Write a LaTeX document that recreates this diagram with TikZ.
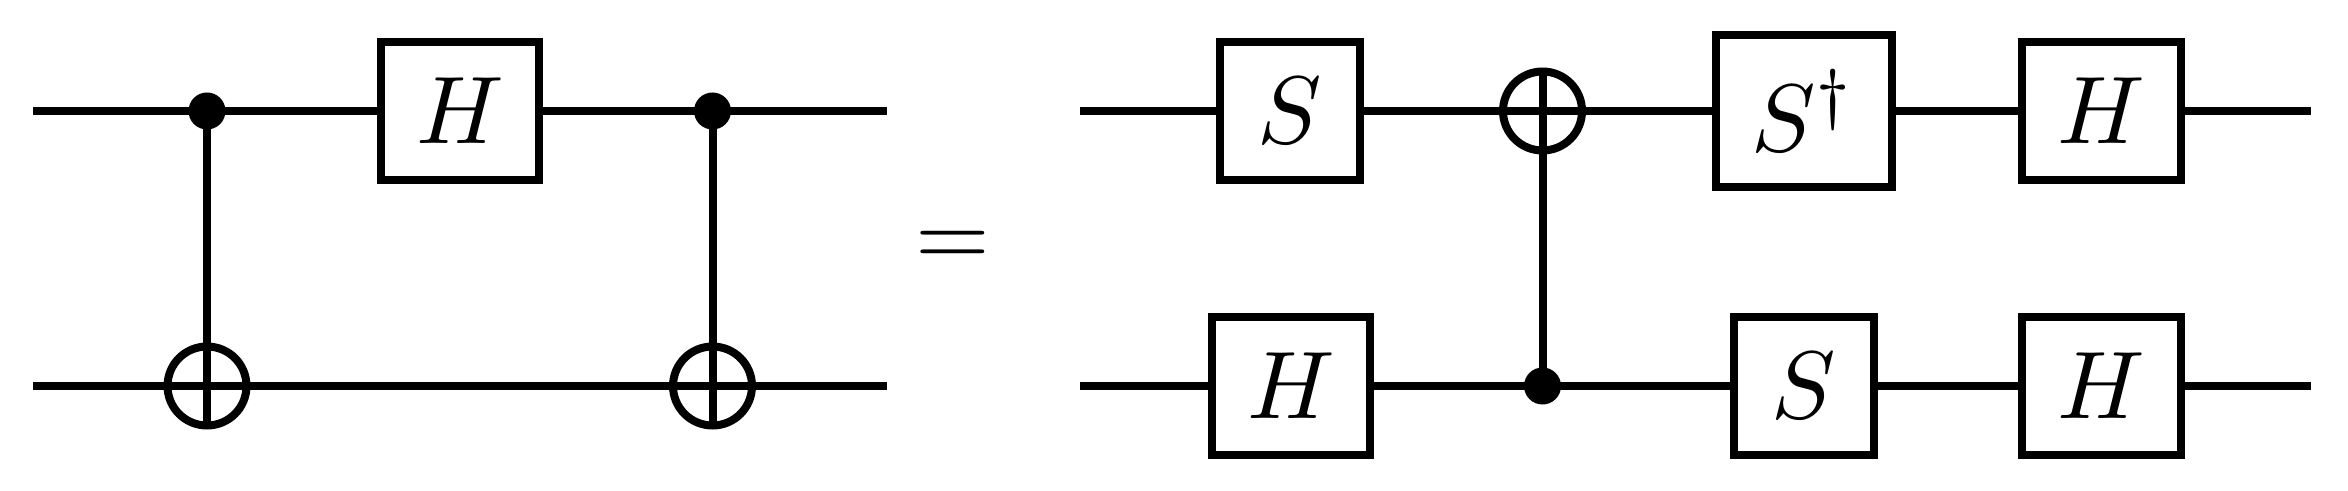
\documentclass[tikz,border=0pt]{standalone}
\usepackage{tikz}

\newcommand{\gatelabel}[1]{\scalebox{4.8}{$#1$}}

\begin{document}
\begin{tikzpicture}[
            x=0.5pt,y=-0.5pt,
            line width=4pt,
            every node/.style={inner sep=0pt,outer sep=0pt},
            gate/.style={rectangle,draw,fill=white,minimum height=69pt},
            ctrl/.style={circle,fill=black,minimum size=18.5pt},
            targ/.style={circle,draw,minimum size=39.5pt}
        ]
        \useasboundingbox (0,0) rectangle (2348,491);

        % left circuit
        \coordinate (left top in) at (33,111);
        \coordinate (left top out) at (887,111);
        \coordinate (left bot in) at (33,386);
        \coordinate (left bot out) at (887,386);
        \node[gate,minimum width=79pt] (left h) at (460,111) {\gatelabel{H}};
        \node[ctrl] (left ctrl a) at (207,111) {};
        \node[ctrl] (left ctrl b) at (712.5,111) {};
        \node[targ] (left targ a) at (207,386) {};
        \node[targ] (left targ b) at (712.5,386) {};
        \draw (left top in) -- (left h);
        \draw (left h) -- (left top out);
        \draw (left bot in) -- (left bot out);
        \draw (left ctrl a.center) -- (left targ a.south);
        \draw (left ctrl b.center) -- (left targ b.south);

        \node (equals) at (953,248.5) {\gatelabel{=}};

        % right circuit
        \coordinate (right top in) at (1080,111);
        \coordinate (right top out) at (2311,111);
        \coordinate (right bot in) at (1080,386);
        \coordinate (right bot out) at (2311,386);
        \node[gate,minimum width=70pt] (top s) at (1290,111) {\gatelabel{S}};
        \node[targ] (right targ) at (1542.5,111) {};
        \node[gate,minimum width=88pt,minimum height=76pt] (top sdag) at (1803.5,111) {\gatelabel{S^\dagger}};
        \node[gate,minimum width=79.5pt] (top h) at (2101,111) {\gatelabel{H}};
        \node[gate,minimum width=79pt] (bot h) at (1291,386) {\gatelabel{H}};
        \node[ctrl] (right ctrl) at (1542.5,386) {};
        \node[gate,minimum width=70pt] (bot s) at (1803.5,386) {\gatelabel{S}};
        \node[gate,minimum width=79.5pt] (bot h b) at (2101,386) {\gatelabel{H}};
        \draw (right top in) -- (top s);
        \draw (top s) -- (top sdag);
        \draw (top sdag) -- (top h);
        \draw (top h) -- (right top out);
        \draw (right bot in) -- (bot h);
        \draw (bot h) -- (bot s);
        \draw (bot s) -- (bot h b);
        \draw (bot h b) -- (right bot out);
        \draw (right ctrl.center) -- (right targ.north);
    \end{tikzpicture}
\end{document}
